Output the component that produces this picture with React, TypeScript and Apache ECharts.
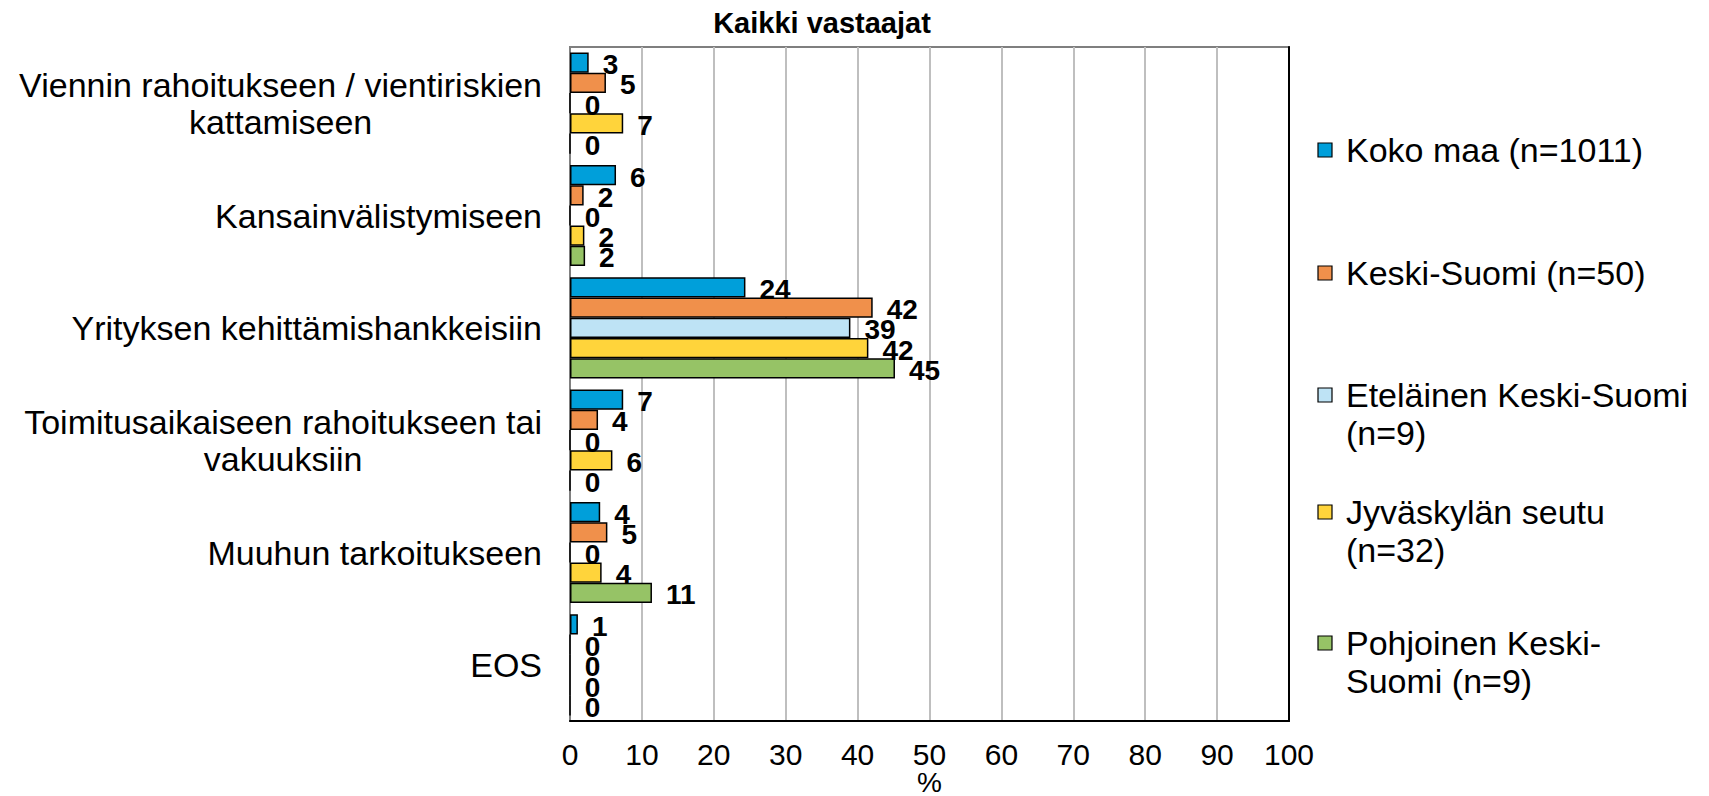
import React, { useEffect, useRef } from "react";
import * as echarts from "echarts";

const titleText = "Kaikki vastaajat";
const axisName = "%";
const categories = [
  "Viennin rahoitukseen / vientiriskien\nkattamiseen",
  "Kansainvälistymiseen",
  "Yrityksen kehittämishankkeisiin",
  "Toimitusaikaiseen rahoitukseen tai\nvakuuksiin",
  "Muuhun tarkoitukseen",
  "EOS",
];
const seriesNames = [
  "Koko maa (n=1011)",
  "Keski-Suomi (n=50)",
  "Eteläinen Keski-Suomi (n=9)",
  "Jyväskylän seutu (n=32)",
  "Pohjoinen Keski-Suomi (n=9)",
];
const legendLabels = [
  "Koko maa (n=1011)",
  "Keski-Suomi (n=50)",
  "Eteläinen Keski-Suomi\n(n=9)",
  "Jyväskylän seutu\n(n=32)",
  "Pohjoinen Keski-\nSuomi (n=9)",
];
const kokoMaa = [2.6, 6.4, 24.4, 7.4, 4.2, 1.1];
const keskiSuomi = [5.0, 1.9, 42.1, 3.9, 5.2, 0];
const etelainen = [0, 0, 39.0, 0, 0, 0];
const jyvaskyla = [7.4, 2.0, 41.5, 5.9, 4.4, 0];
const pohjoinen = [0, 2.1, 45.2, 0, 11.4, 0];
const seriesValues = [kokoMaa, keskiSuomi, etelainen, jyvaskyla, pohjoinen];
const colors = ["#009FDA", "#F0904B", "#BEE3F5", "#FFD43B", "#96C366"];
const xMin = 0;
const xMax = 100;
const xInterval = 10;

const FONT = "'Liberation Sans', Arial, Helvetica, sans-serif";

export default function App() {
  const ref = useRef<HTMLDivElement>(null);

  useEffect(() => {
    document.body.style.margin = "0";
    document.body.style.overflow = "hidden";
    if (!ref.current) return;
    const chart = echarts.init(ref.current, undefined, { renderer: "svg" });

    const legendTops = [150, 273, 395, 512, 643];
    const legendGraphics: any[] = [];
    legendLabels.forEach((lbl, i) => {
      legendGraphics.push({
        type: "rect",
        shape: { x: 1318, y: legendTops[i] - 7, width: 14, height: 14 },
        style: { fill: colors[i], stroke: "#000", lineWidth: 1.2 },
      });
      legendGraphics.push({
        type: "text",
        x: 1346,
        y: legendTops[i] - 19,
        style: {
          text: lbl,
          fontSize: 34,
          fontFamily: FONT,
          fill: "#000",
          lineHeight: 38,
          align: "left",
          verticalAlign: "top",
        },
      });
    });

    chart.setOption({
      animation: false,
      backgroundColor: "#fff",
      title: {
        text: titleText,
        left: 817,
        top: 3,
        textAlign: "center",
        textStyle: { fontSize: 29, fontWeight: "bold", fontFamily: FONT, color: "#000" },
      },
      grid: {
        left: 570,
        top: 47,
        right: 420,
        bottom: 75,
        outerBoundsMode: "none",
        containLabel: false,
        show: true,
        borderColor: "#7F7F7F",
        borderWidth: 2,
        backgroundColor: "#fff",
      },
      xAxis: {
        type: "value",
        min: xMin,
        max: xMax,
        interval: xInterval,
        name: axisName,
        nameLocation: "middle",
        nameGap: 47,
        nameMoveOverlap: false,
        nameTextStyle: { fontSize: 28, fontFamily: FONT, color: "#000", lineHeight: 28 },
        axisLine: { show: true, lineStyle: { color: "#000", width: 2 } },
        axisTick: { show: false },
        axisLabel: { fontSize: 30, fontFamily: FONT, color: "#000", margin: 19, lineHeight: 28 },
        splitLine: { show: true, lineStyle: { color: "#BFBFBF", width: 2 } },
      },
      yAxis: [
        {
          type: "category",
          data: categories,
          inverse: true,
          axisLine: { show: true, lineStyle: { color: "#808080", width: 2 } },
          axisTick: { show: false },
          axisLabel: {
            margin: 28,
            align: "right",
            formatter: (v: string) => v.split("\n").map((l) => `{c|${l}}`).join("\n"),
            rich: {
              c: { fontSize: 34, fontFamily: FONT, color: "#000", lineHeight: 37, align: "center" },
            },
          },
          splitLine: { show: false },
        },
        {
          type: "category",
          data: categories,
          inverse: true,
          position: "right",
          axisLine: { show: true, lineStyle: { color: "#000", width: 2 } },
          axisTick: { show: false },
          axisLabel: { show: false },
          splitLine: { show: false },
        },
      ],
      series: seriesNames.map((name, i) => ({
        name,
        type: "bar",
        yAxisIndex: 0,
        data: seriesValues[i],
        barGap: "0%",
        barCategoryGap: "10%",
        itemStyle: { color: colors[i], borderColor: "#000", borderWidth: 1.5 },
        label: {
          show: true,
          position: "right",
          distance: 14,
          offset: [0, 2],
          formatter: (p: any) => String(Math.round(p.value)),
          fontSize: 28,
          fontWeight: "bold",
          fontFamily: FONT,
          color: "#000",
        },
      })),
      graphic: legendGraphics,
    });

    return () => chart.dispose();
  }, []);

  return (
    <div
      ref={ref}
      style={{ width: 1709, height: 796, position: "absolute", left: 0, top: 0 }}
    />
  );
}
